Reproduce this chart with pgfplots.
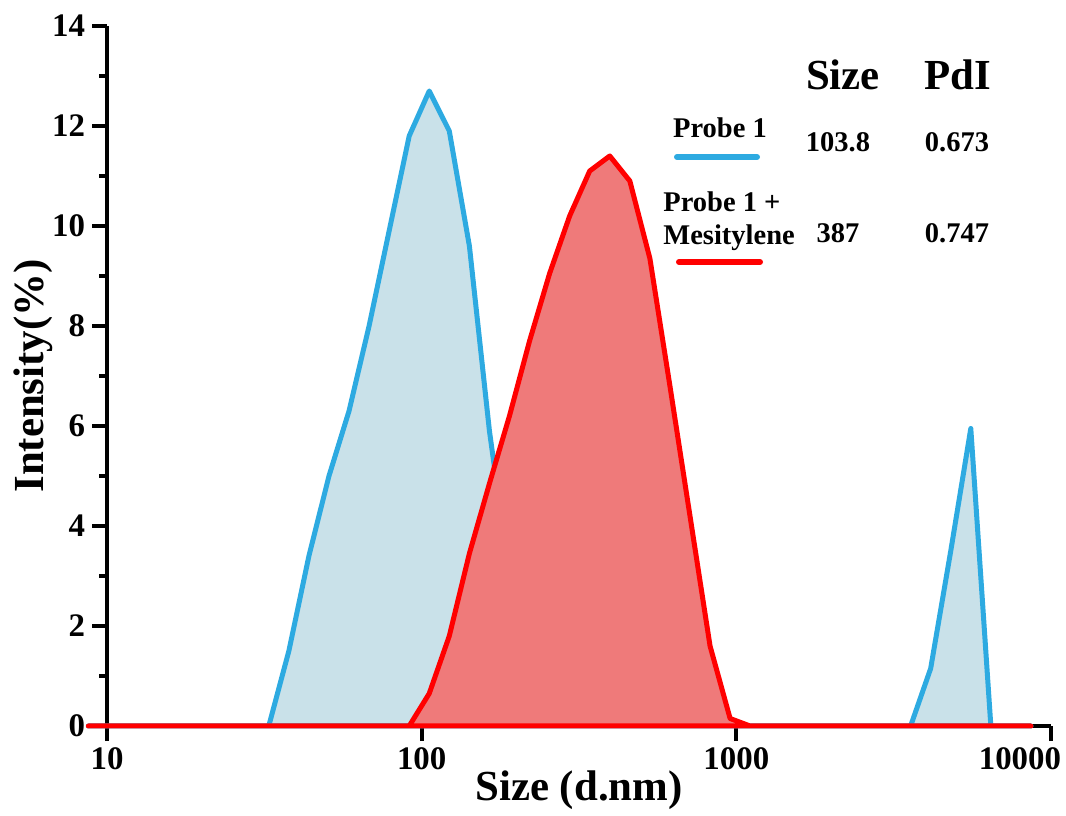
\documentclass[border=0pt]{standalone}
\usepackage{fontspec}
\setmainfont{Liberation Serif}
\usepackage{pgfplots}
\pgfplotsset{compat=1.18}
\definecolor{blueline}{RGB}{45,170,225}
\definecolor{bluefill}{RGB}{201,225,233}
\definecolor{redline}{RGB}{255,0,0}
\definecolor{redfill}{RGB}{239,122,122}
\begin{document}
\begin{tikzpicture}
\begin{axis}[
  scale only axis,
  width=472bp, height=350bp,
  xmode=log,
  xmin=10, xmax=10000,
  ymin=0, ymax=14,
  clip=false,
  axis lines=left,
  axis line style={-, line width=2bp, black},
  xtick={10,100,1000,10000},
  xticklabels={10,100,1000,\llap{10000\kern-5bp}},
  xminorticks=false,
  ytick={0,2,4,6,8,10,12,14},
  minor y tick num=1,
  tick align=outside,
  major tick length=7.5bp,
  minor tick length=4bp,
  major tick style={line width=2bp, black},
  minor tick style={line width=2bp, black},
  tick label style={font=\fontsize{16.5}{18}\selectfont\bfseries},
  /pgf/number format/assume math mode=true,
  xlabel={Size (d.nm)},
  ylabel={Intensity(\%)},
  label style={font=\fontsize{21.5}{24}\selectfont\bfseries},
  xlabel style={at={(axis description cs:0.5,-0.0914)}, anchor=center},
  ylabel style={at={(axis description cs:-0.078,0.5)}, anchor=center},
  line join=round,
]
\coordinate (O) at (rel axis cs:0,0);
\addplot[draw=blueline, fill=bluefill, line width=2.5bp] table {
x y
8.721 0
28.21 0
32.67 0
37.84 1.5
43.82 3.4
50.75 5.0
58.77 6.3
68.06 8.0
78.82 9.9
91.28 11.8
105.7 12.7
122.4 11.9
141.8 9.6
164.2 5.9
190.1 3.0
220.2 1.0
255.0 0
3091 0
3580 0
4145 1.15
4801 3.5
5560 5.95
6439 0
8635 0
} \closedcycle;
\addplot[draw=redline, fill=redfill, line width=2.5bp] table {
x y
8.721 0
91.28 0
105.7 0.65
122.4 1.8
141.8 3.45
164.2 4.85
190.1 6.2
220.2 7.7
255.0 9.05
295.3 10.2
342.0 11.1
396.1 11.4
458.7 10.9
531.2 9.35
615.1 6.8
712.4 4.2
825.0 1.6
955.4 0.15
1106 0
8635 0
} \closedcycle;
\end{axis}
\begin{scope}[shift={(O)}, x=0.5bp, y=0.5bp]
  \node[anchor=base, font=\fontsize{21.5}{24}\selectfont\bfseries] at (736,636) {Size};
  \node[anchor=base, font=\fontsize{21.5}{24}\selectfont\bfseries] at (851,636) {PdI};
  \node[anchor=base, font=\fontsize{14.3}{16}\selectfont\bfseries] at (613,588) {Probe 1};
  \node[anchor=base, font=\fontsize{14.3}{16}\selectfont\bfseries] at (731,574) {103.8};
  \node[anchor=base, font=\fontsize{14.3}{16}\selectfont\bfseries] at (850,574) {0.673};
  \draw[blueline, line width=3bp, line cap=round] (570,569) -- (650,569);
  \node[anchor=base west, inner sep=0pt, font=\fontsize{14.3}{16}\selectfont\bfseries] at (556,514) {Probe 1 +};
  \node[anchor=base west, inner sep=0pt, font=\fontsize{14.3}{16}\selectfont\bfseries] at (556,481) {Mesitylene};
  \node[anchor=base, font=\fontsize{14.3}{16}\selectfont\bfseries] at (731,483) {387};
  \node[anchor=base, font=\fontsize{14.3}{16}\selectfont\bfseries] at (850,483) {0.747};
  \draw[redline, line width=3bp, line cap=round] (572,464) -- (653,464);
  \pgfresetboundingbox
  \path[use as bounding box] (-107,-90) rectangle (959,726);
\end{scope}
\end{tikzpicture}
\end{document}
